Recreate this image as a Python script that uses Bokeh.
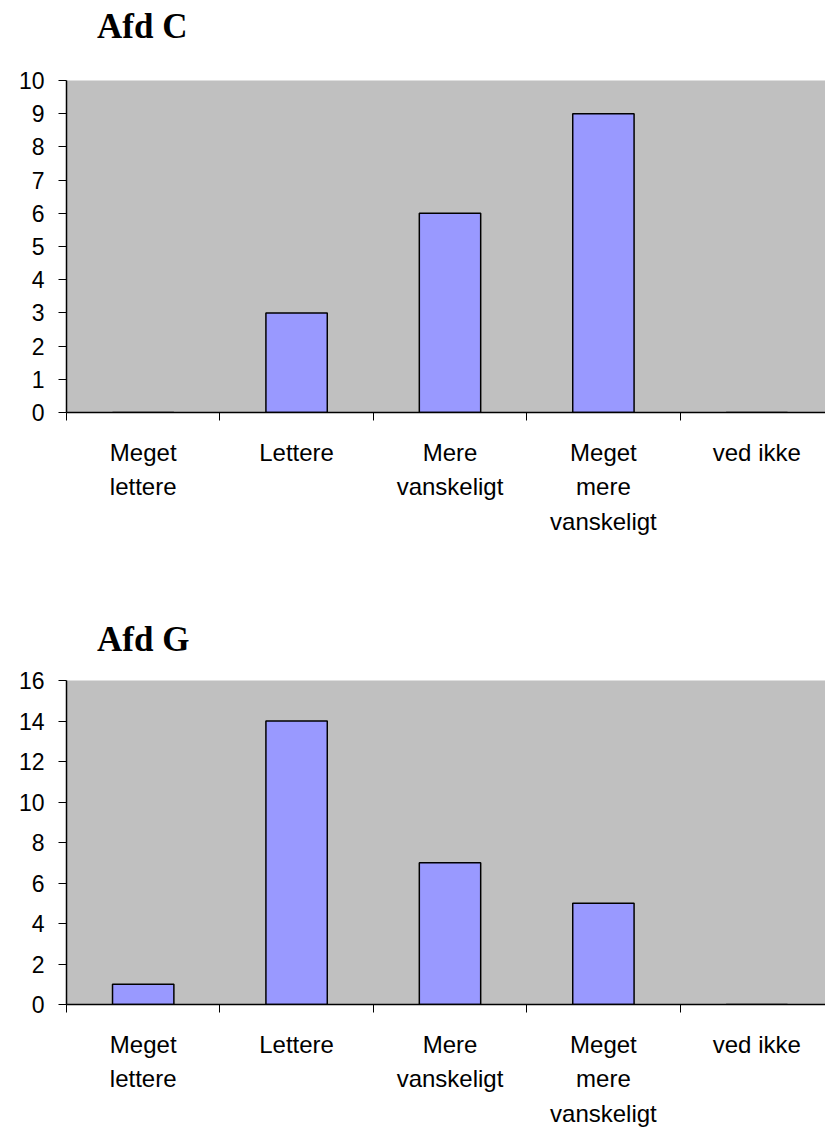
from bokeh.plotting import figure
from bokeh.models import Range1d, FixedTicker, LinearAxis, Grid, Div
from bokeh.layouts import column
from bokeh.embed import file_html
from bokeh.resources import INLINE

# Response categories; "\n" marks where a name wraps under the axis
categories = ["Meget\nlettere", "Lettere", "Mere\nvanskeligt", "Meget\nmere\nvanskeligt", "ved ikke"]

# Counts per department
afd_c = [0, 3, 6, 9, 0]
afd_g = [1, 14, 7, 5, 0]

afd_c_ticks = [0, 1, 2, 3, 4, 5, 6, 7, 8, 9, 10]
afd_g_ticks = [0, 2, 4, 6, 8, 10, 12, 14, 16]

BAR_FILL = "#9999FF"
PLOT_BG = "#C0C0C0"
SANS = "Liberation Sans"
SERIF = "Liberation Serif"


def make_title(text, height, pad_top):
    html = ('<div style="margin:0; padding:%dpx 0 0 97px; font-family:\'%s\'; '
            'font-size:35px; font-weight:bold; line-height:35px; color:black; '
            'white-space:nowrap">%s</div>' % (pad_top, SERIF, text))
    return Div(text=html, width=825, height=height, margin=0)


def make_chart(values, yticks, height, border_top, border_bottom):
    n = len(values)
    slot_px = 153.4
    frame_w = 825 - 66
    p = figure(width=825, height=height, output_backend="svg", toolbar_location=None,
               x_range=Range1d(0, frame_w / slot_px), y_range=Range1d(yticks[0], yticks[-1]),
               min_border_left=66, min_border_right=0,
               min_border_top=border_top, min_border_bottom=border_bottom,
               x_axis_type=None, y_axis_type=None, margin=0)
    p.background_fill_color = PLOT_BG
    p.border_fill_color = "white"
    p.outline_line_color = None

    # value axis
    yax = LinearAxis(ticker=FixedTicker(ticks=yticks))
    yax.axis_line_color = "black"
    yax.axis_line_width = 1.5
    yax.major_tick_line_color = "black"
    yax.major_tick_out = 8
    yax.major_tick_in = 0
    yax.minor_tick_line_color = None
    yax.major_label_standoff = 14
    yax.major_label_text_font = SANS
    yax.major_label_text_font_size = "23px"
    yax.major_label_text_color = "black"
    p.add_layout(yax, "left")

    # category axis: names at slot centres, tick marks between slots
    centers = [i + 0.5 for i in range(n)]
    xax = LinearAxis(ticker=FixedTicker(ticks=centers, minor_ticks=list(range(n + 1))))
    xax.axis_line_color = "black"
    xax.axis_line_width = 1.5
    xax.major_tick_line_color = None
    xax.major_tick_out = 0
    xax.major_tick_in = 0
    xax.minor_tick_line_color = "black"
    xax.minor_tick_out = 8
    xax.minor_tick_in = 0
    xax.major_label_overrides = {c: name for c, name in zip(centers, categories)}
    xax.major_label_standoff = 18
    xax.major_label_text_font = SANS
    xax.major_label_text_font_size = "24px"
    xax.major_label_text_line_height = 1.28
    xax.major_label_text_color = "black"
    p.add_layout(xax, "below")

    p.ygrid.ticker = FixedTicker(ticks=yticks[1:-1])
    p.ygrid.grid_line_color = "black"
    p.ygrid.grid_line_width = 1
    p.xgrid.grid_line_color = None
    # grey edge along the top of the plot area
    p.add_layout(Grid(dimension=1, ticker=FixedTicker(ticks=[yticks[-1]]),
                      grid_line_color="#808080", grid_line_width=2))

    p.vbar(x=centers, top=values, width=0.4, bottom=0,
           fill_color=BAR_FILL, line_color="black", line_width=1.5)
    return p


t1 = make_title("Afd C", 60, 9)
p1 = make_chart(afd_c, afd_c_ticks, 506, 20, 154)
t2 = make_title("Afd G", 90, 56)
p2 = make_chart(afd_g, afd_g_ticks, 477, 24, 129)

layout = column(t1, p1, t2, p2, spacing=0)
open("out.html", "w").write(file_html(layout, INLINE))
